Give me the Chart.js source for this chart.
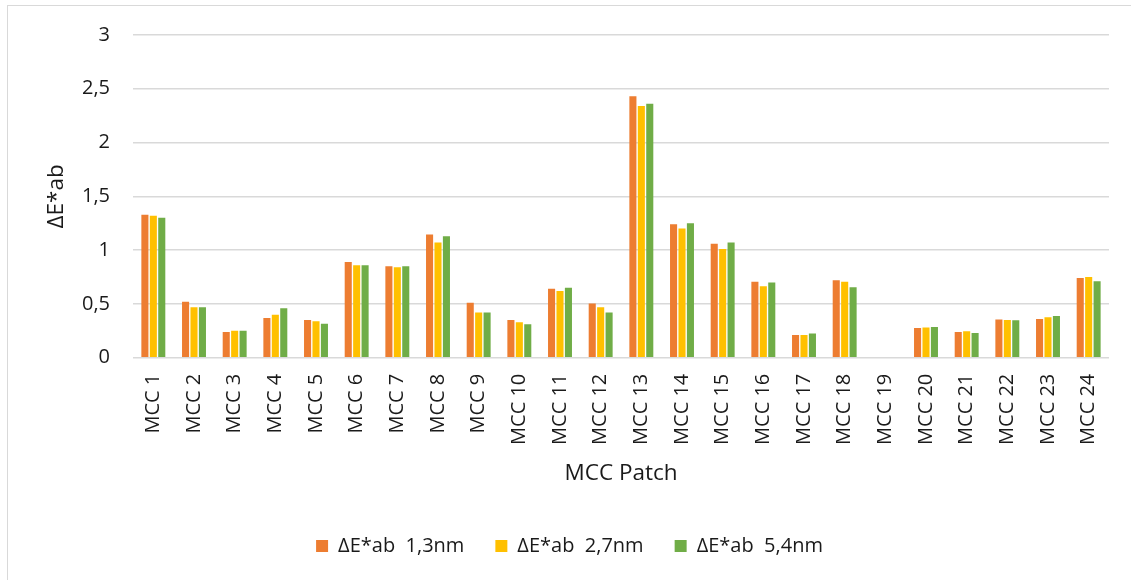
<!DOCTYPE html>
<html>
<head>
<meta charset="utf-8">
<script src="https://cdn.jsdelivr.net/npm/chart.js@4"></script>
<style>
  html, body { margin: 0; padding: 0; background: #fff; overflow: hidden; }
  #frame { position: absolute; left: 7px; top: 5px; width: 1140px; height: 600px; border: 1px solid #d9d9d9; }
  #wrap { position: absolute; left: 0; top: 0; width: 1131px; height: 580px; }
</style>
</head>
<body>
<div id="frame"></div>
<div id="wrap"><canvas id="patch-chart" width="1131" height="580"></canvas></div>
<script>
  'use strict';

  // Data.
  const patches = ['MCC 1', 'MCC 2', 'MCC 3', 'MCC 4', 'MCC 5', 'MCC 6', 'MCC 7', 'MCC 8',
    'MCC 9', 'MCC 10', 'MCC 11', 'MCC 12', 'MCC 13', 'MCC 14', 'MCC 15', 'MCC 16',
    'MCC 17', 'MCC 18', 'MCC 19', 'MCC 20', 'MCC 21', 'MCC 22', 'MCC 23', 'MCC 24'];
  const seriesNames = ['\u0394E*ab  1,3nm', '\u0394E*ab  2,7nm', '\u0394E*ab  5,4nm'];
  const de13 = [1.33, 0.52, 0.24, 0.37, 0.35, 0.89, 0.85, 1.145, 0.51, 0.35, 0.64, 0.505,
    2.43, 1.24, 1.06, 0.705, 0.21, 0.72, 0, 0.275, 0.24, 0.355, 0.36, 0.74];
  const de27 = [1.32, 0.47, 0.25, 0.40, 0.34, 0.86, 0.84, 1.07, 0.42, 0.33, 0.62, 0.47,
    2.34, 1.20, 1.01, 0.665, 0.21, 0.705, 0, 0.28, 0.245, 0.35, 0.375, 0.75];
  const de54 = [1.30, 0.47, 0.25, 0.46, 0.315, 0.86, 0.85, 1.13, 0.42, 0.31, 0.65, 0.42,
    2.36, 1.25, 1.07, 0.70, 0.225, 0.655, 0, 0.285, 0.23, 0.347, 0.387, 0.71];
  const yTicks = [0, 0.5, 1, 1.5, 2, 2.5, 3];

  const colors = ['#ED7D31', '#FFC000', '#70AD47'];
  const textColor = '#1a1a1a';
  const gridColor = '#d9d9d9';

  Chart.defaults.font.family = "'Open Sans', sans-serif";
  Chart.defaults.font.size = 20;
  Chart.defaults.color = textColor;

  function makeSet(i, values) {
    return {
      label: seriesNames[i],
      data: values,
      backgroundColor: colors[i],
      borderWidth: 0,
      categoryPercentage: 0.622,
      barPercentage: 0.84
    };
  }

  const ctx = document.getElementById('patch-chart').getContext('2d');
  const patchChart = new Chart(ctx, {
    type: 'bar',
    data: {
      labels: patches,
      datasets: [makeSet(0, de13), makeSet(1, de27), makeSet(2, de54)]
    },
    options: {
      responsive: false,
      animation: false,
      layout: {
        padding: { left: 30, right: 22, top: 34.4, bottom: 14 }
      },
      plugins: {
        tooltip: { enabled: false },
        legend: {
          position: 'bottom',
          labels: {
            boxWidth: 12,
            boxHeight: 12,
            padding: 31,
            color: textColor,
            font: { size: 20 }
          }
        }
      },
      scales: {
        x: {
          grid: { display: false, drawTicks: false },
          border: { display: false },
          ticks: {
            minRotation: 90,
            maxRotation: 90,
            autoSkip: false,
            padding: 16,
            color: textColor
          },
          title: {
            display: true,
            text: 'MCC Patch',
            color: textColor,
            font: { size: 22.5 },
            padding: { top: 0, bottom: 17.5 }
          },
          afterFit: function (scale) {
            scale.height = 147.3;
          }
        },
        y: {
          min: 0,
          max: 3,
          grid: { color: gridColor, lineWidth: 1.5, drawTicks: false },
          border: { display: false },
          afterBuildTicks: function (scale) {
            scale.ticks = yTicks.map(v => ({ value: v }));
          },
          ticks: {
            padding: 23,
            color: textColor,
            callback: function (value) {
              return String(value).replace('.', ',');
            }
          },
          title: {
            display: true,
            text: '\u0394E*ab',
            color: textColor,
            font: { size: 22.5 },
            padding: { top: 13.5, bottom: 0 }
          },
          afterFit: function (scale) {
            scale.width = 103;
          }
        }
      }
    }
  });
</script>
</body>
</html>
